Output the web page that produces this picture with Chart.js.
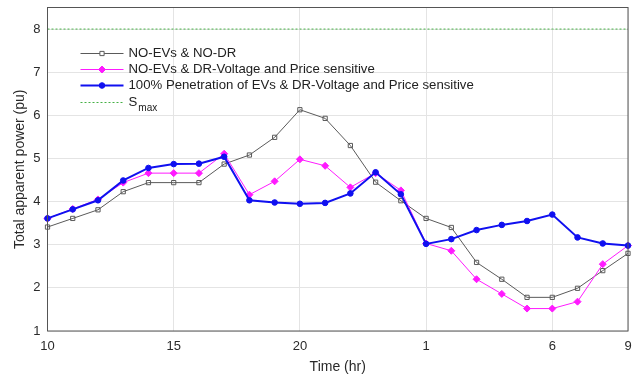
<!DOCTYPE html>
<html>
<head>
<meta charset="utf-8">
<script src="https://cdn.jsdelivr.net/npm/chart.js@4.4.1/dist/chart.umd.min.js"></script>
<style>
  body { margin: 0; background: #fff; }
</style>
</head>
<body>
<canvas id="chart-power" width="638" height="377"></canvas>
<script>
// hours of the day, 10 h to 9 h next morning
const hours = ["10", "11", "12", "13", "14", "15", "16", "17", "18", "19", "20", "21", "22", "23",
  "24", "1", "2", "3", "4", "5", "6", "7", "8", "9"];
const shownHours = ["10", "15", "20", "1", "6", "9"];

const noEvNoDr = [3.41, 3.61, 3.81, 4.23, 4.44, 4.44, 4.44, 4.87, 5.08, 5.49, 6.13, 5.93,
  5.30, 4.45, 4.02, 3.61, 3.40, 2.59, 2.20, 1.78, 1.78, 1.99, 2.40, 2.80];
const noEvDr = [3.61, 3.83, 4.05, 4.44, 4.66, 4.66, 4.66, 5.11, 4.16, 4.47, 4.98, 4.83,
  4.33, 4.66, 4.26, 3.03, 2.86, 2.20, 1.86, 1.52, 1.52, 1.68, 2.55, 2.98];
const fullEvDr = [3.61, 3.82, 4.03, 4.49, 4.78, 4.87, 4.88, 5.04, 4.03, 3.98, 3.95, 3.97,
  4.19, 4.68, 4.17, 3.02, 3.13, 3.34, 3.46, 3.55, 3.70, 3.17, 3.03, 2.98];
const sMax = 8;

const seriesNames = [
  "NO-EVs & NO-DR",
  "NO-EVs & DR-Voltage and Price sensitive",
  "100% Penetration of EVs & DR-Voltage and Price sensitive",
  "S",
];

const GRAY = "#5a5a5a";
const MAGENTA = "#ff1aff";
const BLUE = "#1010f0";
const GREEN = "#45b045";
const FONT = "'Liberation Sans', Arial, sans-serif";

const ctx = document.getElementById("chart-power").getContext("2d");

// box around the plot + legend inside the axes (matlab style)
const boxAndLegend = {
  id: "boxAndLegend",
  afterDraw(chart) {
    const c = chart.ctx;
    const a = chart.chartArea;
    c.save();
    c.strokeStyle = "#555";
    c.lineWidth = 1;
    c.strokeRect(a.left, a.top, a.right - a.left, a.bottom - a.top);

    const x0 = a.left + 33, x1 = a.left + 76, tx = a.left + 81;
    const rows = [a.top + 46, a.top + 62, a.top + 78, a.top + 95];
    const styles = [
      { color: GRAY, width: 1, point: "rect", radius: 3, fill: "#fff" },
      { color: MAGENTA, width: 1, point: "rectRot", radius: 3.5, fill: MAGENTA },
      { color: BLUE, width: 2, point: "circle", radius: 2.8, fill: BLUE },
      { color: GREEN, width: 1, dash: [2, 2] },
    ];
    c.font = "13.2px " + FONT;
    c.textBaseline = "middle";
    styles.forEach(function (s, i) {
      const y = rows[i];
      c.strokeStyle = s.color;
      c.lineWidth = s.width;
      c.setLineDash(s.dash || []);
      c.beginPath();
      c.moveTo(x0, y);
      c.lineTo(x1, y);
      c.stroke();
      c.setLineDash([]);
      if (s.point) {
        c.fillStyle = s.fill;
        c.lineWidth = 1;
        Chart.helpers.drawPoint(c, { pointStyle: s.point, radius: s.radius, borderWidth: 1 }, (x0 + x1) / 2, y);
      }
      c.fillStyle = "#222";
      c.fillText(seriesNames[i], tx, y);
    });
    // subscript for S_max
    const w = c.measureText("S").width;
    c.font = "10px " + FONT;
    c.fillText("max", tx + w + 1, rows[3] + 6);
    c.restore();
  },
};

new Chart(ctx, {
  type: "line",
  data: {
    labels: hours,
    datasets: [
      {
        label: seriesNames[2],
        data: fullEvDr,
        borderColor: BLUE,
        backgroundColor: BLUE,
        borderWidth: 2,
        pointStyle: "circle",
        pointRadius: 2.8,
        pointBorderWidth: 1,
        pointBackgroundColor: BLUE,
        order: 0,
      },
      {
        label: seriesNames[1],
        data: noEvDr,
        borderColor: MAGENTA,
        backgroundColor: MAGENTA,
        borderWidth: 1,
        pointStyle: "rectRot",
        pointRadius: 3.5,
        pointBorderWidth: 1,
        pointBackgroundColor: MAGENTA,
        order: 1,
      },
      {
        label: seriesNames[0],
        data: noEvNoDr,
        borderColor: GRAY,
        borderWidth: 1,
        pointStyle: "rect",
        pointRadius: 3,
        pointBorderWidth: 1,
        pointBackgroundColor: "rgba(0,0,0,0)",
        order: 2,
      },
      {
        label: "Smax",
        data: hours.map(() => sMax),
        borderColor: GREEN,
        borderWidth: 1,
        borderDash: [2, 2],
        pointRadius: 0,
        order: 3,
      },
    ],
  },
  options: {
    responsive: false,
    animation: false,
    devicePixelRatio: 1,
    layout: { autoPadding: false, padding: { top: 7.5, right: 10, left: 0, bottom: 0 } },
    plugins: {
      legend: { display: false },
      tooltip: { enabled: false },
    },
    scales: {
      x: {
        offset: false,
        afterFit: (scale) => {
          scale.height = 46;
          scale.paddingLeft = 0;
          scale.paddingRight = 0;
        },
        grid: {
          color: (c) => (c.tick && shownHours.includes(hours[c.index]) ? "#e4e4e4" : "rgba(0,0,0,0)"),
          drawTicks: false,
        },
        border: { display: false },
        ticks: {
          autoSkip: false,
          maxRotation: 0,
          padding: 8,
          color: "#2a2a2a",
          font: { family: FONT, size: 13 },
          callback: (value, index) => (shownHours.includes(hours[index]) ? hours[index] : ""),
        },
        title: {
          display: true,
          text: "Time (hr)",
          color: "#2a2a2a",
          font: { family: FONT, size: 14 },
          padding: { top: 0, bottom: 1 },
        },
      },
      y: {
        min: 1,
        max: 8.5,
        afterFit: (scale) => {
          scale.width = 47.5;
          scale.paddingTop = 0;
          scale.paddingBottom = 0;
        },
        afterBuildTicks: (scale) => {
          scale.ticks = scale.ticks.filter((t) => Number.isInteger(t.value));
        },
        grid: { color: "#e4e4e4", drawTicks: false },
        border: { display: false },
        ticks: {
          stepSize: 1,
          padding: 7,
          color: "#2a2a2a",
          font: { family: FONT, size: 13 },
        },
        title: {
          display: true,
          text: "Total apparent power (pu)",
          color: "#2a2a2a",
          font: { family: FONT, size: 14 },
          padding: { top: 12, bottom: 0 },
        },
      },
    },
  },
  plugins: [boxAndLegend],
});
</script>
</body>
</html>
